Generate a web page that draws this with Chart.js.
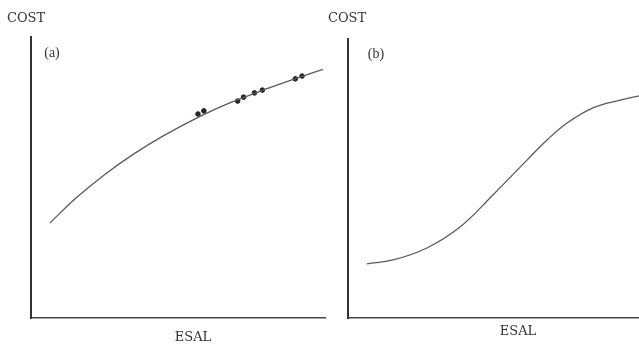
<!DOCTYPE html>
<html>
<head>
<meta charset="utf-8">
<script src="https://cdn.jsdelivr.net/npm/chart.js@4/dist/chart.umd.min.js"></script>
<style>
  body { margin: 0; background: #fff; }
  #wrap { position: relative; width: 639px; height: 345px; overflow: hidden; }
  canvas { position: absolute; top: 0; }
  #chartA { left: 0; }
  #chartB { left: 320px; }
</style>
</head>
<body>
<div id="wrap">
  <canvas id="chartA" width="330" height="345"></canvas>
  <canvas id="chartB" width="319" height="345"></canvas>
</div>
<script>
// panel (a): fitted curve + observed points (ESAL 0-100, COST 0-100, no scale shown)
const curveAx = [6.4, 15, 25, 35, 45, 57, 68, 80, 90, 99.3];
const curveAy = [33.8, 42.4, 51.0, 58.4, 64.8, 71.5, 76.7, 81.5, 85.2, 88.5];
const pointsAx = [56.8, 58.8, 70.3, 72.3, 76.0, 78.7, 89.9, 92.2];
const pointsAy = [72.6, 73.7, 77.2, 78.6, 80.1, 81.1, 85.1, 86.1];

// panel (b): s-shaped curve
const curveBx = [6.5, 15.5, 27.1, 38.5, 49.8, 61.5, 68.4, 75.3, 84.2, 93.5, 100];
const curveBy = [19.4, 20.8, 25.1, 32.6, 44.1, 56.6, 63.8, 69.9, 75.3, 78.1, 79.6];

const xTitle = 'ESAL';
const yTitle = 'COST';

const toXY = (xs, ys) => xs.map((x, i) => ({x, y: ys[i]}));

// draws COST / (a) / ESAL as plain text
const panelText = {
  id: 'panelText',
  afterDraw(chart, args, opts) {
    const ctx = chart.ctx;
    ctx.save();
    ctx.fillStyle = '#333';
    ctx.textBaseline = 'middle';
    ctx.font = '13px "DejaVu Serif"';
    ctx.textAlign = 'left';
    ctx.fillText(yTitle, opts.costX, opts.costY);
    ctx.textAlign = 'center';
    ctx.fillText(xTitle, opts.esalX, opts.esalY);
    ctx.font = '14px "Liberation Serif"';
    ctx.fillText(opts.tag, opts.tagX, opts.tagY);
    ctx.restore();
  }
};

const axes = () => ({
  x: {
    type: 'linear', min: 0, max: 100,
    ticks: { display: false },
    grid: { display: false, drawTicks: false },
    border: { display: true, color: '#444', width: 1.5 },
    afterFit: s => { s.height = 27; }
  },
  y: {
    type: 'linear', min: 0, max: 100,
    ticks: { display: false },
    grid: { display: false, drawTicks: false },
    border: { display: true, color: '#333', width: 2 },
    afterFit: s => { s.width = 0; }
  }
});

const lineSet = (data, extra) => Object.assign({
  type: 'line',
  data,
  borderColor: '#5a5a5a',
  borderWidth: 1.3,
  pointRadius: 0,
  fill: false,
  tension: 0.4
}, extra);

new Chart(document.getElementById('chartA'), {
  type: 'scatter',
  data: {
    datasets: [
      lineSet(toXY(curveAx, curveAy), { cubicInterpolationMode: 'monotone' }),
      {
        data: toXY(pointsAx, pointsAy),
        backgroundColor: '#222',
        borderColor: '#222',
        pointRadius: 2.3
      }
    ]
  },
  options: {
    responsive: false,
    animation: false,
    layout: { padding: { left: 31, top: 37, right: 3, bottom: 0 } },
    scales: axes(),
    plugins: {
      legend: { display: false },
      tooltip: { enabled: false },
      panelText: { tag: '(a)', tagX: 52, tagY: 53, costX: 7, costY: 19, esalX: 193, esalY: 338 }
    }
  },
  plugins: [panelText]
});

new Chart(document.getElementById('chartB'), {
  type: 'scatter',
  data: {
    datasets: [lineSet(toXY(curveBx, curveBy))]
  },
  options: {
    responsive: false,
    animation: false,
    layout: { padding: { left: 28, top: 39, right: 0, bottom: 0 } },
    scales: axes(),
    plugins: {
      legend: { display: false },
      tooltip: { enabled: false },
      panelText: { tag: '(b)', tagX: 56, tagY: 54, costX: 8, costY: 19, esalX: 198, esalY: 332 }
    }
  },
  plugins: [panelText]
});
</script>
</body>
</html>
